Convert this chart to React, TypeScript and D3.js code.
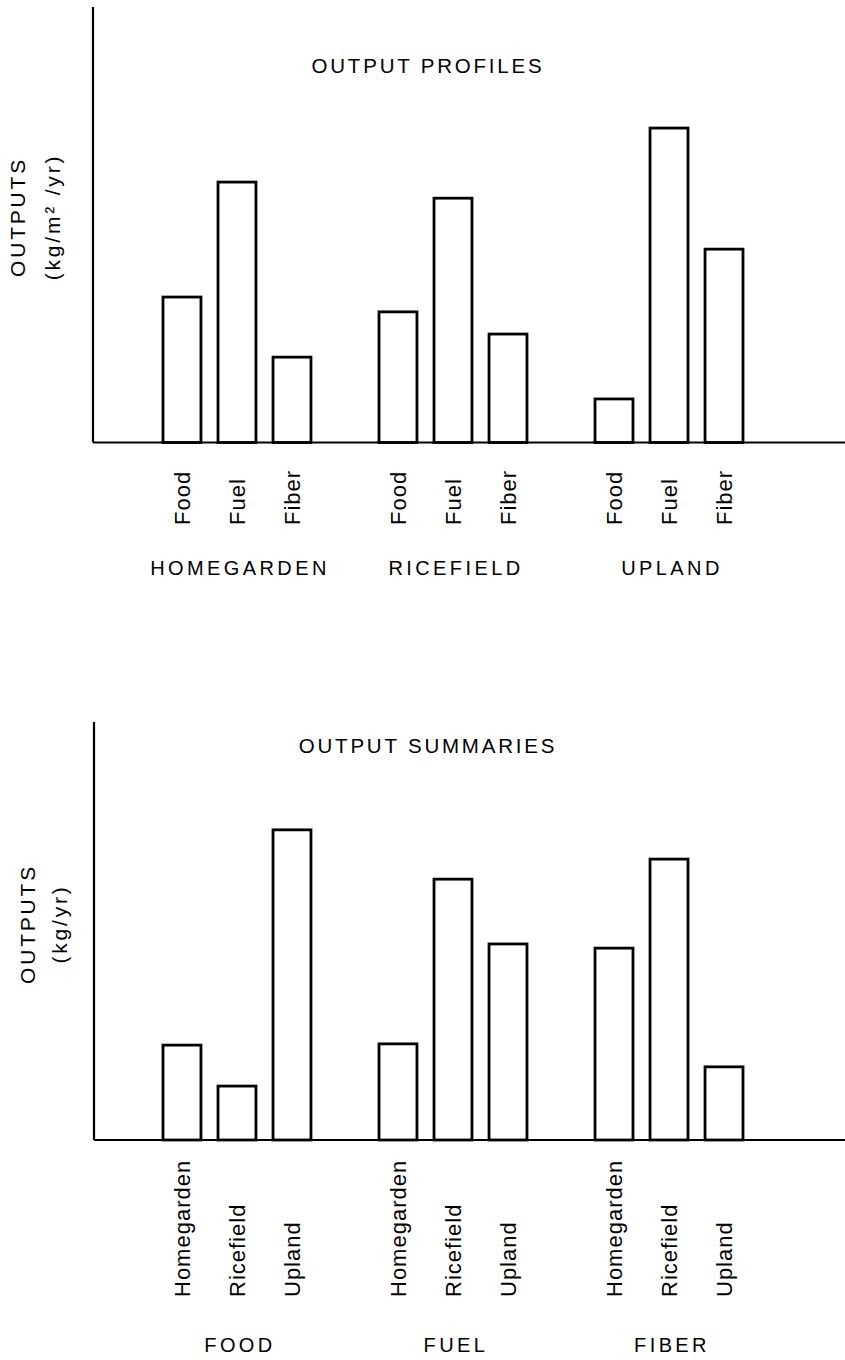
import React from "react";
import * as d3 from "d3";

// ---------- data ----------
const profileGroups = ["HOMEGARDEN", "RICEFIELD", "UPLAND"];
const profileItems = ["Food", "Fuel", "Fiber"];
// relative outputs (kg/m²/yr), arbitrary units 0–100 of axis height
const profileHomegarden = [33.4, 59.8, 19.6];
const profileRicefield = [30.0, 56.1, 24.9];
const profileUpland = [10.0, 72.2, 44.4];

const summaryGroups = ["FOOD", "FUEL", "FIBER"];
const summaryItems = ["Homegarden", "Ricefield", "Upland"];
// relative outputs (kg/yr), arbitrary units 0–100 of axis height
const summaryFood = [22.7, 12.9, 74.2];
const summaryFuel = [23.0, 62.4, 46.9];
const summaryFiber = [45.9, 67.2, 17.5];

const W = 845;
const H = 1360;
const FONT = "'Liberation Sans', Arial, Helvetica, sans-serif";

type PanelProps = {
  title: string;
  yLabel1: string;
  yLabel2: string;
  groups: string[];
  items: string[];
  values: number[][];
  axisX: number;
  yTop: number;
  yBase: number;
  titleY: number;
  tickStartY: number;
  groupLabelY: number;
  yLabelY: number;
  yLabelX1: number;
  yLabelX2: number;
};

function Panel(p: PanelProps) {
  const x0 = d3
    .scaleBand<string>()
    .domain(p.groups)
    .range([163, 743])
    .paddingInner(0.315)
    .paddingOuter(0);
  const x1 = d3
    .scaleBand<string>()
    .domain(p.items)
    .range([0, x0.bandwidth()])
    .paddingInner(0.31)
    .paddingOuter(0);
  const y = d3.scaleLinear().domain([0, 100]).range([p.yBase, p.yTop]);

  const tickFont = 22;
  const capH = tickFont * 0.716;

  return (
    <g>
      {/* title */}
      <text
        x={428}
        y={p.titleY}
        textAnchor="middle"
        fontFamily={FONT}
        fontSize={20.5}
        letterSpacing={2.8}
        fill="#000"
      >
        {p.title}
      </text>
      {/* y axis label */}
      <text
        transform={`translate(${p.yLabelX1},${p.yLabelY}) rotate(-90)`}
        textAnchor="middle"
        fontFamily={FONT}
        fontSize={21}
        letterSpacing={2.8}
        fill="#000"
      >
        {p.yLabel1}
      </text>
      <text
        transform={`translate(${p.yLabelX2},${p.yLabelY}) rotate(-90)`}
        textAnchor="middle"
        fontFamily={FONT}
        fontSize={21}
        letterSpacing={2.8}
        fill="#000"
      >
        {p.yLabel2}
      </text>
      {/* bars */}
      {p.groups.map((g, gi) => (
        <g key={g} transform={`translate(${x0(g)},0)`}>
          {p.items.map((it, ii) => {
            const v = p.values[gi][ii];
            return (
              <rect
                key={it}
                x={x1(it)}
                y={y(v)}
                width={x1.bandwidth()}
                height={p.yBase - y(v)}
                fill="#fff"
                stroke="#000"
                strokeWidth={2.8}
              />
            );
          })}
          {p.items.map((it) => {
            const cx = (x1(it) as number) + x1.bandwidth() / 2;
            return (
              <text
                key={"t" + it}
                transform={`translate(${cx + capH / 2},${p.tickStartY}) rotate(-90)`}
                fontFamily={FONT}
                fontSize={tickFont}
                letterSpacing={1}
                fill="#000"
              >
                {it}
              </text>
            );
          })}
          <text
            x={x0.bandwidth() / 2 + 3}
            y={p.groupLabelY}
            textAnchor="middle"
            fontFamily={FONT}
            fontSize={20}
            letterSpacing={3.4}
            fill="#000"
          >
            {g}
          </text>
        </g>
      ))}
      {/* axes */}
      <line x1={p.axisX} x2={p.axisX} y1={p.yTop} y2={p.yBase} stroke="#000" strokeWidth={2.2} />
      <line x1={p.axisX} x2={W} y1={p.yBase} y2={p.yBase} stroke="#000" strokeWidth={2.2} />
    </g>
  );
}

export default function App() {
  return (
    <svg
      width={W}
      height={H}
      viewBox={`0 0 ${W} ${H}`}
      style={{ position: "absolute", left: 0, top: 0, background: "#fff", display: "block" }}
    >
      <rect x={0} y={0} width={W} height={H} fill="#fff" />
      <Panel
        title="OUTPUT PROFILES"
        yLabel1="OUTPUTS"
        yLabel2="(kg/m² /yr)"
        groups={profileGroups}
        items={profileItems}
        values={[profileHomegarden, profileRicefield, profileUpland]}
        axisX={93}
        yTop={7}
        yBase={442.5}
        titleY={73}
        tickStartY={525}
        groupLabelY={575}
        yLabelY={217}
        yLabelX1={25}
        yLabelX2={60}
      />
      <Panel
        title="OUTPUT SUMMARIES"
        yLabel1="OUTPUTS"
        yLabel2="(kg/yr)"
        groups={summaryGroups}
        items={summaryItems}
        values={[summaryFood, summaryFuel, summaryFiber]}
        axisX={94}
        yTop={722}
        yBase={1140}
        titleY={753}
        tickStartY={1297}
        groupLabelY={1352}
        yLabelY={924}
        yLabelX1={35}
        yLabelX2={67}
      />
    </svg>
  );
}
